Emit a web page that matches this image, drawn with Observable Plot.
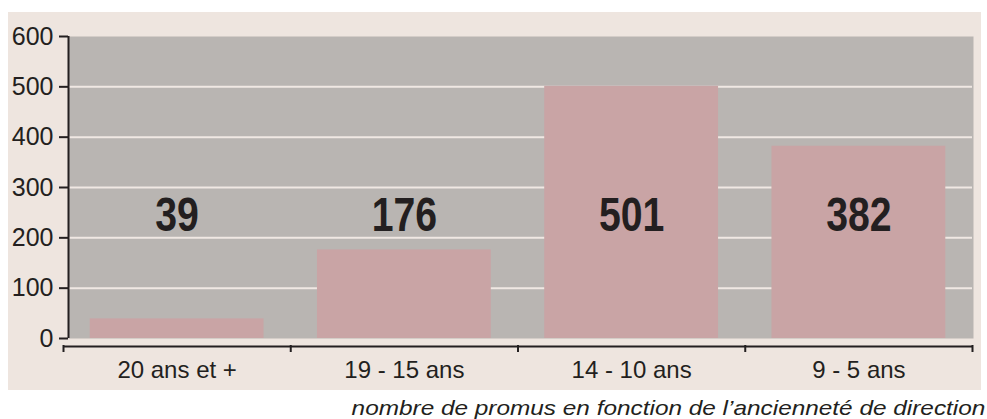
<!DOCTYPE html>
<html>
<head>
<meta charset="utf-8">
<script src="https://cdn.jsdelivr.net/npm/d3@7"></script>
<script src="https://cdn.jsdelivr.net/npm/@observablehq/plot@0.6"></script>
<style>
  html, body { margin: 0; padding: 0; background: #ffffff; overflow: hidden; }
  #page { position: relative; width: 987px; height: 419px; }
  #panel { position: absolute; left: 8px; top: 12px; width: 973px; height: 378px; background: #eee5df; }
  #caption { position: absolute; right: 2px; top: 397px; font: italic 21px "Liberation Sans", Arial, sans-serif; line-height: 21px; color: #231f20; white-space: nowrap; transform: scaleX(1.16); transform-origin: right center; }
</style>
</head>
<body>
<div id="page">
  <div id="panel"></div>
  <div id="caption">nombre de promus en fonction de l’ancienneté de direction</div>
</div>
<script>
const categories = ["20 ans et +", "19 - 15 ans", "14 - 10 ans", "9 - 5 ans"];
const values = [39, 176, 501, 382];
const yTicks = [0, 100, 200, 300, 400, 500, 600];
const gridTicks = [100, 200, 300, 400, 500];

const data = categories.map((c, i) => ({category: c, value: values[i], i}));
const pad = 0.1175;          // half of the gap between bars, in category units
const boundaries = d3.range(categories.length + 1);
const centers = categories.map((c, i) => i + 0.5);

const ink = "#231f20";

// condense the big value labels horizontally (reference uses a condensed bold face)
function condensed(index, scales, values, dimensions, context, next) {
  const g = next(index, scales, values, dimensions, context);
  d3.select(g).selectAll("text").attr("transform", function () {
    return (this.getAttribute("transform") || "") + " scale(0.8,1)";
  });
  return g;
}

const chart = Plot.plot({
  width: 973,
  height: 378,
  marginLeft: 55,
  marginRight: 9,
  marginTop: 24,
  marginBottom: 52,
  style: {background: "transparent", fontFamily: "'Liberation Sans', Arial, sans-serif", color: ink, overflow: "visible"},
  x: {type: "linear", domain: [0, categories.length]},
  y: {domain: [0, 600]},
  marks: [
    Plot.frame({fill: "#b9b5b2", stroke: null, insetLeft: 5, insetRight: -1}),
    Plot.gridY(gridTicks, {stroke: "#f0e8e3", strokeOpacity: 1, strokeWidth: 2, insetLeft: 5}),
    Plot.rectY(data, {x1: d => d.i + pad, x2: d => d.i + 1 - pad, y: "value", fill: "#c9a4a5"}),
    Plot.text(data, {x: d => d.i + 0.5, y: 244, text: d => String(d.value), fontSize: 49, fontWeight: "bold",
      fill: ink, render: condensed}),
    Plot.ruleX([0], {dx: 5, stroke: ink, strokeWidth: 2}),
    Plot.axisY(yTicks, {tickSize: 9, dx: 5, tickPadding: 6, fontSize: 25, strokeWidth: 2, stroke: ink, fill: ink, label: null, tickFormat: d => String(d)}),
    Plot.ruleY([0], {dy: 8, stroke: ink, strokeWidth: 2}),
    Plot.axisX(boundaries, {tickSize: 7, dy: 7, strokeWidth: 2, stroke: ink, tickFormat: () => "", label: null}),
    Plot.axisX(centers, {tickSize: 0, tickPadding: 22, fontSize: 24, fill: ink, label: null, tickFormat: d => categories[Math.floor(d)]})
  ]
});
chart.style.position = "absolute";
chart.style.left = "8px";
chart.style.top = "12px";
document.getElementById("page").appendChild(chart);
</script>
</body>
</html>
